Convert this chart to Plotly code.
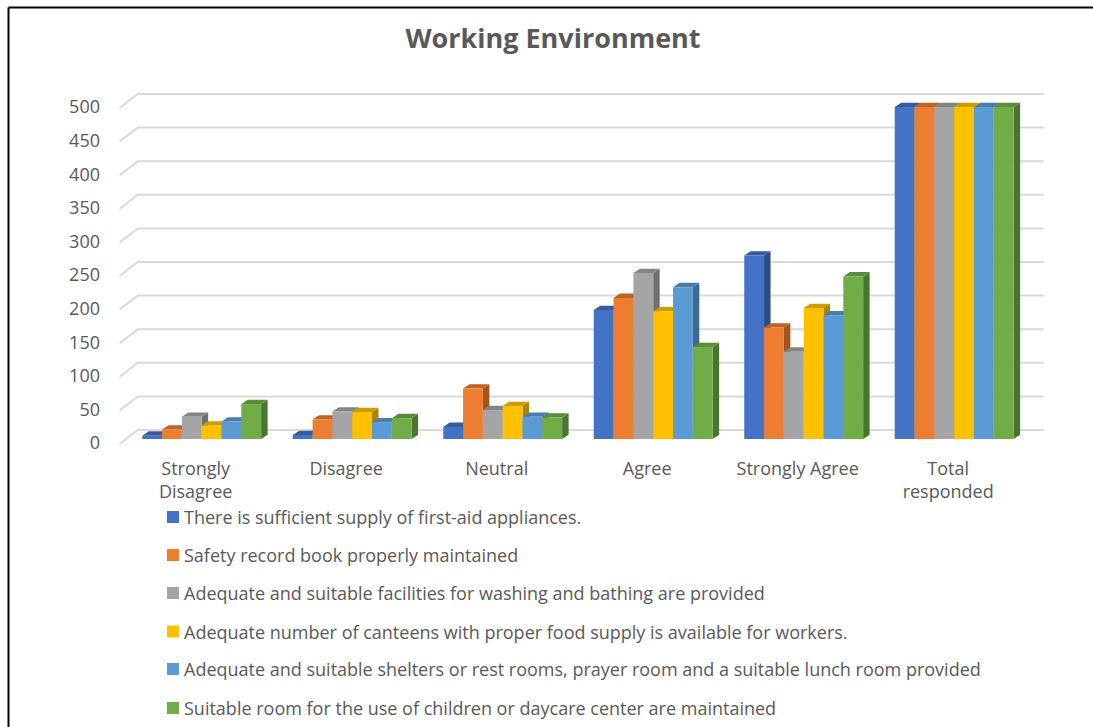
import plotly.graph_objects as go

W, H = 1093, 727
FONT = "Open Sans"
TEXT = "#595959"

categories = ["Strongly<br>Disagree", "Disagree", "Neutral", "Agree", "Strongly Agree", "Total<br>responded"]
series_names = [
    "There is sufficient supply of first-aid appliances.",
    "Safety record book properly maintained",
    "Adequate and suitable facilities for washing and bathing are provided",
    "Adequate number of canteens with proper food supply is available for workers.",
    "Adequate and suitable shelters or rest rooms, prayer room and a suitable lunch room provided",
    "Suitable room for the use of children or daycare center are maintained",
]
first_aid = [5, 6, 18, 192, 273, 494]
record_book = [14, 29, 75, 210, 166, 494]
washing = [33, 41, 43, 247, 130, 494]
canteens = [20, 40, 49, 190, 195, 494]
shelters = [26, 25, 33, 226, 184, 494]
daycare = [52, 31, 32, 137, 242, 494]
series_values = [first_aid, record_book, washing, canteens, shelters, daycare]

front_colors = ["#4472C4", "#ED7D31", "#A5A5A5", "#FFC000", "#5B9BD5", "#70AD47"]
side_colors = ["#2C4C86", "#A0561F", "#6F6F6F", "#AD8300", "#3D6A92", "#4A7530"]
top_colors = ["#365C9F", "#BF6226", "#858585", "#CF9C00", "#4A7DAB", "#5A8C39"]

y_ticks = [0, 50, 100, 150, 200, 250, 300, 350, 400, 450, 500]

# Oblique-projection offsets, in axis units
BAR_GAP = 0.21
BAR_W = (1 - BAR_GAP) / 6
DEPTH_X, DEPTH_Y = 0.043, 6.4
WALL_Y, STUB_Y = 13.4, -7.4
WALL_X0, WALL_X1, STUB_X = -0.425, 5.595, -0.545
LABEL_Y, LABEL_X = -6.0, -0.04

fig = go.Figure()

# Back wall gridlines and the slanted stubs that lead to the value labels
grid_x, grid_y = [], []
for v in y_ticks:
    grid_x += [STUB_X, WALL_X0, WALL_X1, None]
    grid_y += [v + STUB_Y, v + WALL_Y, v + WALL_Y, None]
fig.add_trace(go.Scatter(x=grid_x, y=grid_y, mode="lines", showlegend=False, hoverinfo="skip",
                         line=dict(color="#D9D9D9", width=2), zorder=-1))

# Painted left to right: each series' side and top faces, then its front face
for k, (name, values) in enumerate(zip(series_names, series_values)):
    side_x, side_y, top_x, top_y = [], [], [], []
    for i, v in enumerate(values):
        x0 = i + (k - 3) * BAR_W
        x1 = x0 + BAR_W
        side_x += [x1, x1 + DEPTH_X, x1 + DEPTH_X, x1, x1, None]
        side_y += [0, DEPTH_Y, v + DEPTH_Y, v, 0, None]
        top_x += [x0, x1, x1 + DEPTH_X, x0 + DEPTH_X, x0, None]
        top_y += [v, v, v + DEPTH_Y, v + DEPTH_Y, v, None]
    for fx, fy, col, z in ((side_x, side_y, side_colors[k], 2 * k), (top_x, top_y, top_colors[k], 2 * k)):
        fig.add_trace(go.Scatter(x=fx, y=fy, mode="lines", fill="toself", fillcolor=col,
                                 line=dict(width=0, color=col), showlegend=False,
                                 hoverinfo="skip", zorder=z))
    fig.add_trace(go.Bar(x=list(range(len(categories))), y=values, name=name, showlegend=False,
                         marker=dict(color=front_colors[k], line=dict(width=0)), zorder=2 * k + 1))

# Legend column
legend_y = [517, 555, 593, 631.5, 669, 708]
annotations = []
shapes = []
for name, color, py in zip(series_names, front_colors, legend_y):
    annotations.append(dict(text=name, xref="paper", yref="paper", x=182 / W, y=1 - py / H,
                            xanchor="left", yanchor="middle", showarrow=False,
                            font=dict(family=FONT, size=18, color=TEXT)))
    shapes.append(dict(type="rect", xref="paper", yref="paper", x0=167 / W, x1=179 / W,
                       y0=1 - (py + 6) / H, y1=1 - (py - 6) / H,
                       fillcolor=color, line=dict(width=0)))

# Frame along the top and left edges
for x0, y0, x1, y1 in ((8.5, 7.5, W, 7.5), (8.5, 7.5, 8.5, H)):
    shapes.append(dict(type="line", xref="paper", yref="paper", x0=x0 / W, x1=x1 / W,
                       y0=1 - y0 / H, y1=1 - y1 / H, line=dict(color="#000000", width=2)))

fig.update_layout(
    width=W, height=H, autosize=False,
    margin=dict(l=0, r=0, t=0, b=0),
    paper_bgcolor="#FFFFFF", plot_bgcolor="#FFFFFF",
    barmode="group", bargap=BAR_GAP, bargroupgap=0,
    showlegend=False,
    title=dict(text="<b>Working Environment</b>", x=553 / W, y=1 - 39 / H, xanchor="center", yanchor="middle",
               font=dict(family=FONT, size=27, color=TEXT)),
    xaxis=dict(domain=[105 / W, 1045 / W], range=[(105 - 201.7) / 150.5, (1045 - 201.7) / 150.5],
               automargin=False,
               tickmode="array", tickvals=[i + LABEL_X for i in range(len(categories))], ticktext=categories,
               showgrid=False, zeroline=False, showline=False, ticks="", ticklabelstandoff=6,
               tickfont=dict(family=FONT, size=18, color=TEXT)),
    yaxis=dict(domain=[1 - 450 / H, 1 - 88 / H], range=[(439 - 450) / 0.672, (439 - 88) / 0.672],
               automargin=False,
               tickmode="array", tickvals=[v + LABEL_Y for v in y_ticks], ticktext=[str(v) for v in y_ticks],
               showgrid=False, zeroline=False, showline=False, ticks="", ticklabelstandoff=4,
               tickfont=dict(family=FONT, size=18, color=TEXT)),
    annotations=annotations, shapes=shapes,
)

fig.write_html("out.html", config=dict(displayModeBar=False))
